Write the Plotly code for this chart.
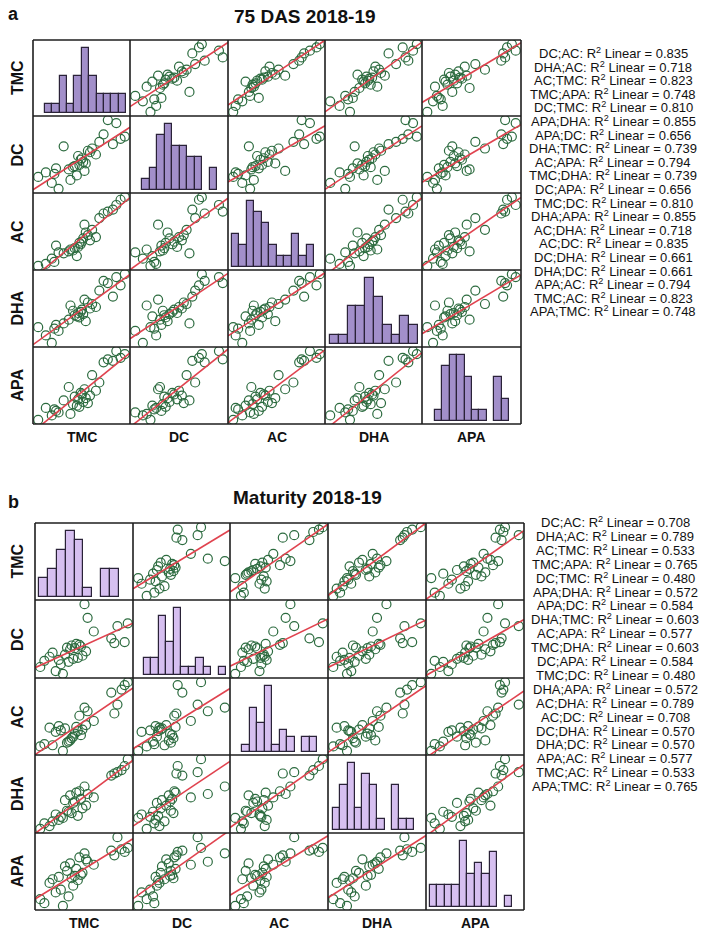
import numpy as np
import plotly.graph_objects as go

W, H = 710, 936
variables = ["TMC", "DC", "AC", "DHA", "APA"]

# values, in histogram-bin units (one entry per genotype)
# panel a: 75 DAS 2018-19
tmc_a = [2.1, 0.5, 2.9, 1.4, 4.3, 2.4, 2.6, 5.05, 3.5, 5.35, 4.1, 4.6, 5.8, 4.8, 5.2,
         6.1, 5.5, 6.6, 5.65, 5.95, 7.3, 6.35, 6.85, 7.7, 9.3, 8.2, 10.2, 8.7, 10.7, 9.7]
dc_a = [1.3, 2.1, 0.5, 2.7, 1.7, 2.5, 3.25, 2.3, 6.2, 3.7, 3.1, 3.4, 4.1, 3.55, 4.9,
        3.9, 4.4, 5.4, 4.6, 2.9, 5.1, 5.6, 5.9, 6.8, 6.5, 7.8, 7.2, 9.7, 7.5, 9.3]
ac_a = [1.3, 0.2, 2.25, 0.5, 2.7, 0.8, 3.3, 1.7, 2.1, 3.7, 2.4, 2.55, 4.4, 2.9, 3.1,
        5.3, 3.5, 4.1, 3.9, 6.5, 4.6, 4.9, 5.7, 7.5, 8.8, 8.2, 10.3, 8.5, 10.7, 9.5]
dha_a = [0.5, 2.6, 2.1, 1.5, 5.5, 2.4, 2.9, 4.05, 3.1, 3.9, 3.6, 4.8, 4.35, 4.2, 4.5,
         3.4, 4.65, 5.1, 4.95, 6.3, 5.3, 5.9, 5.7, 7.5, 6.7, 8.8, 8.2, 8.5, 9.7, 9.3]
apa_a = [1.1, 0.5, 1.5, 2.1, 1.3, 1.9, 1.7, 2.4, 3.1, 2.25, 4.9, 2.6, 2.9, 3.6, 3.25,
         3.4, 4.1, 3.75, 3.9, 4.6, 4.4, 2.75, 6.5, 5.5, 8.4, 8.2, 8.8, 8.6, 9.3, 9.7]
nbins_a = [11, 10, 11, 10, 10]

# panel b: Maturity 2018-19 (one DC value missing)
tmc_b = [0.7, 1.8, 0.3, 2.5, 1.2, 3.05, 1.5, 2.3, 3.5, 2.1, 2.9, 3.95, 2.7, 3.35, 4.4,
         3.2, 3.65, 4.75, 3.8, 4.25, 5.5, 4.1, 4.9, 4.6, 7.5, 7.2, 8.5, 7.8, 8.8, 8.2]
dc_b = [2.2, 0.7, 1.3, 0.3, 2.8, 2.05, 3.4, 1.7, 2.5, 2.35, 4.15, 2.65, 3.1, 4.45, 2.95,
        3.9, 4.05, 3.6, 4.7, 4.3, 6.5, 4.55, 8.5, 10.5, 4.8, 5.5, 4.95, 7.3, 7.7, None]
ac_b = [1.4, 3.05, 1.1, 0.5, 3.6, 1.75, 1.25, 3.25, 2.4, 3.8, 1.6, 3.15, 3.5, 2.2, 3.35,
        1.9, 2.8, 3.95, 3.7, 2.6, 4.5, 5.2, 5.8, 6.3, 5.5, 8.3, 9.3, 6.7, 9.7, 8.7]
dha_b = [1.1, 2.4, 0.3, 1.9, 0.7, 2.8, 1.4, 2.05, 4.1, 1.6, 2.95, 2.2, 4.5, 2.6, 3.3,
         5.2, 4.3, 3.7, 5.6, 4.7, 4.9, 5.8, 5.4, 6.5, 8.4, 8.1, 9.5, 8.6, 10.5, 8.9]
apa_b = [0.7, 2.3, 1.3, 0.3, 3.7, 1.7, 4.25, 2.7, 3.3, 4.6, 5.5, 4.1, 6.15, 4.4, 5.2,
         6.6, 4.75, 7.2, 5.8, 4.9, 6.4, 7.5, 6.85, 8.1, 7.8, 8.5, 8.3, 10.5, 8.9, 8.7]
nbins_b = [9, 11, 10, 11, 11]

r2_pairs = ["DC;AC", "DHA;AC", "AC;TMC", "TMC;APA", "DC;TMC", "APA;DHA", "APA;DC",
            "DHA;TMC", "AC;APA", "TMC;DHA", "DC;APA", "TMC;DC", "DHA;APA", "AC;DHA",
            "AC;DC", "DC;DHA", "DHA;DC", "APA;AC", "TMC;AC", "APA;TMC"]
r2_a = [0.835, 0.718, 0.823, 0.748, 0.810, 0.855, 0.656, 0.739, 0.794, 0.739,
        0.656, 0.810, 0.855, 0.718, 0.835, 0.661, 0.661, 0.794, 0.823, 0.748]
r2_b = [0.708, 0.789, 0.533, 0.765, 0.480, 0.572, 0.584, 0.603, 0.577, 0.603,
        0.584, 0.480, 0.572, 0.789, 0.708, 0.570, 0.570, 0.577, 0.533, 0.765]

FONT = "Liberation Sans, Arial, sans-serif"
GREEN = "#2c6b3f"
RED = "#e0434f"
EDGE = "#1e1e1e"

fig = go.Figure()
layout_axes = {}
annotations = []
shapes = []


def px_x(v):
    return v / W


def px_y(v):
    return 1 - v / H


def add_text(txt, x, y, size, bold=True, angle=0):
    annotations.append(dict(
        text=f"<b>{txt}</b>" if bold else txt, xref="paper", yref="paper", showarrow=False,
        x=px_x(x), y=px_y(y), xanchor="center", yanchor="middle", textangle=angle,
        font=dict(family=FONT, size=size, color="#111")))


def add_panel(data, nbins, bar_px, col_edges, row_edges, fill, k0):
    arrs = [np.array([np.nan if v is None else v for v in d], dtype=float) for d in data]
    rng = []
    for a in arrs:
        lo, hi = np.nanmin(a), np.nanmax(a)
        pad = 0.06 * (hi - lo)
        rng.append((lo - pad, hi + pad))
    k = k0
    for i in range(5):
        for j in range(5):
            k += 1
            xn = "x" if k == 1 else f"x{k}"
            yn = "y" if k == 1 else f"y{k}"
            x0, x1 = col_edges[j], col_edges[j + 1]
            y0, y1 = row_edges[i], row_edges[i + 1]
            xax = dict(domain=[px_x(x0), px_x(x1)], visible=False, anchor=yn)
            yax = dict(domain=[px_y(y1), px_y(y0)], visible=False, anchor=xn)
            if i == j:
                a = arrs[i][np.isfinite(arrs[i])]
                nb = nbins[i]
                counts, _ = np.histogram(a, bins=nb, range=(0, nb))
                m = counts.max()
                L, R = bar_px[i]
                u = nb / (R - L)
                xax["range"] = [-(L - x0) * u, nb + (x1 - R) * u]
                h = y1 - y0
                yax["range"] = [-3 * m / (h - 11), m + 8 * m / (h - 11)]
                fig.add_trace(go.Histogram(
                    x=a, xbins=dict(start=0, end=nb, size=1), xaxis=xn, yaxis=yn,
                    marker=dict(color=fill, line=dict(color="#2a2238", width=1.2)),
                    showlegend=False))
            else:
                xv, yv = arrs[j], arrs[i]
                ok = np.isfinite(xv) & np.isfinite(yv)
                xax["range"] = list(rng[j])
                yax["range"] = list(rng[i])
                fig.add_trace(go.Scatter(
                    x=xv[ok], y=yv[ok], mode="markers", xaxis=xn, yaxis=yn,
                    marker=dict(symbol="circle-open", size=9, color=GREEN,
                                line=dict(width=1.2, color=GREEN)),
                    showlegend=False))
                slope, icpt = np.polyfit(xv[ok], yv[ok], 1)
                xs = np.array(rng[j])
                fig.add_trace(go.Scatter(
                    x=xs, y=slope * xs + icpt, mode="lines", xaxis=xn, yaxis=yn,
                    line=dict(color=RED, width=1.6), showlegend=False))
            layout_axes["xaxis" if k == 1 else f"xaxis{k}"] = xax
            layout_axes["yaxis" if k == 1 else f"yaxis{k}"] = yax
    # grid lines of the matrix
    for c in col_edges:
        shapes.append(dict(type="line", xref="paper", yref="paper",
                           x0=px_x(c), x1=px_x(c), y0=px_y(row_edges[0]), y1=px_y(row_edges[-1]),
                           line=dict(color=EDGE, width=1.6)))
    for r in row_edges:
        shapes.append(dict(type="line", xref="paper", yref="paper",
                           x0=px_x(col_edges[0]), x1=px_x(col_edges[-1]), y0=px_y(r), y1=px_y(r),
                           line=dict(color=EDGE, width=1.6)))
    # variable names
    for n, name in enumerate(variables):
        add_text(name, 17, (row_edges[n] + row_edges[n + 1]) / 2, 16, angle=-90)
        add_text(name, (col_edges[n] + col_edges[n + 1]) / 2, row_edges[-1] + 13, 14)
    return k


k = add_panel([tmc_a, dc_a, ac_a, dha_a, apa_a], nbins_a,
              [(45, 126), (142, 217), (232, 314), (330, 418), (435, 509)],
              [33, 130, 228, 325, 422, 521], [40, 116, 193, 270, 347, 424],
              "#a28fca", 0)
add_panel([tmc_b, dc_b, ac_b, dha_b, apa_b], nbins_b,
          [(39, 119), (144, 226), (242, 317), (333, 414), (430, 512)],
          [35, 133, 230, 328, 426, 524], [523, 600, 678, 755, 833, 910],
          "#d6bff0", k)

add_text("a", 13, 14, 18)
add_text("75 DAS 2018-19", 305, 16, 19)
add_text("b", 13, 502, 18)
add_text("Maturity 2018-19", 307, 497, 19)

for n, (p, v) in enumerate(zip(r2_pairs, r2_a)):
    add_text(f"{p}: R<sup>2</sup> Linear = {v:.3f}", 613, 53 + n * 13.6, 13, bold=False)
for n, (p, v) in enumerate(zip(r2_pairs, r2_b)):
    add_text(f"{p}: R<sup>2</sup> Linear = {v:.3f}", 615, 522 + n * 13.9, 13, bold=False)

fig.update_layout(
    width=W, height=H, margin=dict(l=0, r=0, t=0, b=0),
    paper_bgcolor="white", plot_bgcolor="white", bargap=0,
    annotations=annotations, shapes=shapes, **layout_axes)

fig.write_html("out.html", config={"displayModeBar": False},
               post_script="document.body.style.margin='0';")
